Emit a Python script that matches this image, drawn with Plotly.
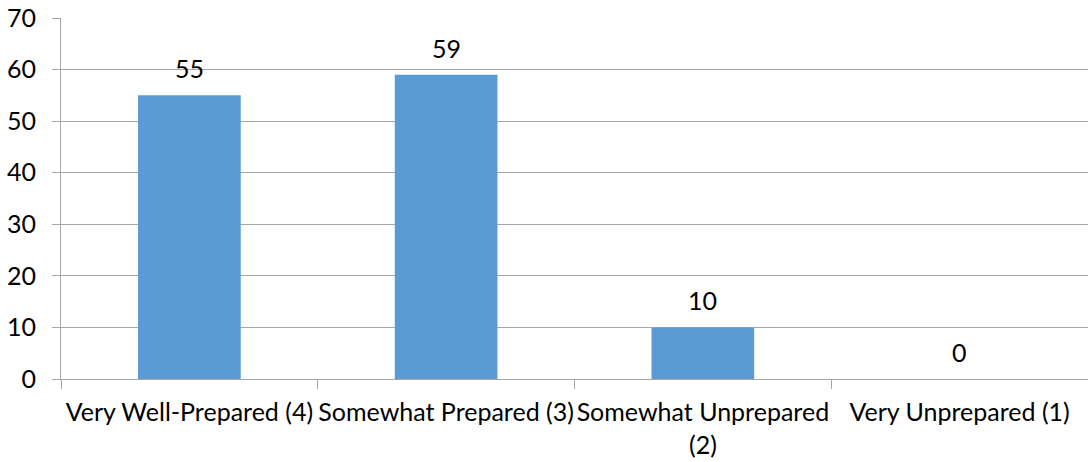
import plotly.graph_objects as go

categories = ["Very Well-Prepared (4)", "Somewhat Prepared (3)", "Somewhat Unprepared<br>(2)", "Very Unprepared (1)"]
values = [55, 59, 10, 0]
y_ticks = [0, 10, 20, 30, 40, 50, 60, 70]

FONT = "Lato"
FS = 25
fig = go.Figure()
fig.add_trace(go.Bar(
    x=categories, y=values,
    marker=dict(color="#5b9bd5", line=dict(width=0)),
    hoverinfo="skip",
))
for c, v in zip(categories, values):
    fig.add_annotation(x=c, y=v, text=str(v), showarrow=False, yshift=27,
                       font=dict(family=FONT, size=FS, color="#000000"))

fig.update_layout(
    width=1088, height=462,
    margin=dict(l=61, r=0, t=18, b=83, autoexpand=False),
    paper_bgcolor="white", plot_bgcolor="white",
    bargap=0.6, showlegend=False,
    font=dict(family=FONT, size=FS, color="#000000"),
)
fig.update_xaxes(
    type="category", tickson="boundaries", ticks="outside", ticklen=9,
    tickcolor="#a6a6a6", showline=True, linecolor="#a6a6a6", linewidth=1,
    showgrid=False, ticklabelstandoff=11, tickangle=0,
    tickfont=dict(family=FONT, size=FS, color="#000000"),
)
fig.update_yaxes(
    range=[0, 70], tickvals=y_ticks, ticks="outside", ticklen=8,
    tickcolor="#a6a6a6", showgrid=True, gridcolor="#a6a6a6", gridwidth=1,
    showline=True, linecolor="#a6a6a6", linewidth=1, zeroline=False,
    ticklabelstandoff=11,
    tickfont=dict(family=FONT, size=FS, color="#000000"),
)
fig.write_html("out.html", config={"displayModeBar": False},
               post_script="document.body.style.margin='0';")
